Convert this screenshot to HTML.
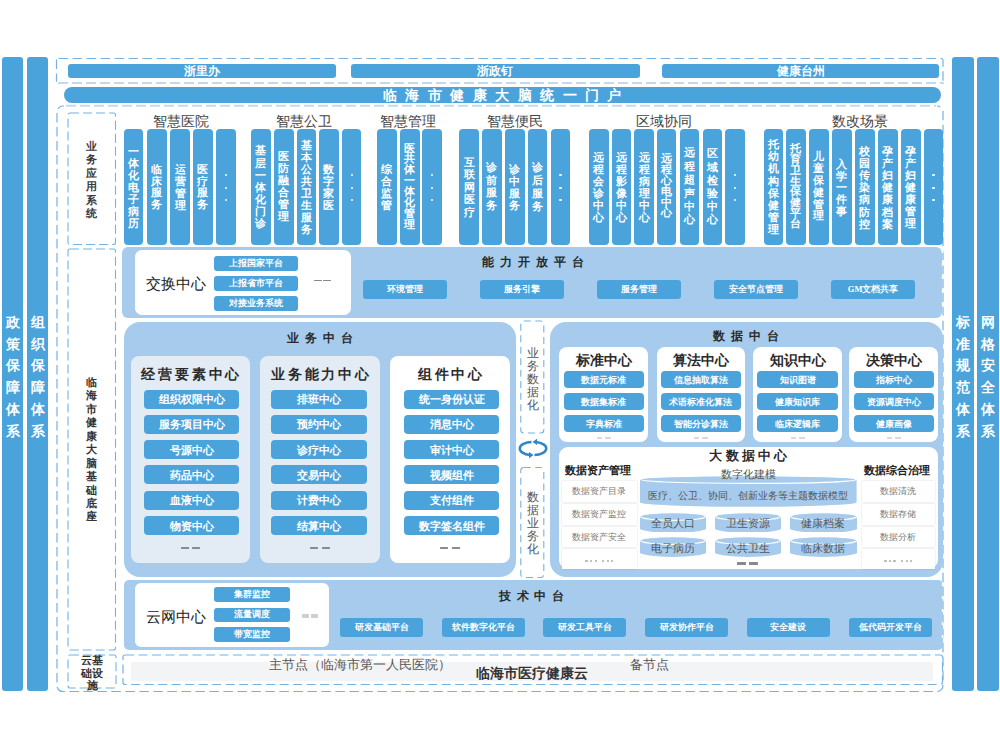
<!DOCTYPE html>
<html><head><meta charset="utf-8"><style>
html,body{margin:0;padding:0;background:#fff;width:1000px;height:750px;overflow:hidden;position:relative;font-family:"Liberation Sans", sans-serif;}
</style></head><body>
<div style="position:absolute;left:1.8px;top:57px;width:21.4px;height:633.8px;background:#4aa3db;border-radius:3px;"></div>
<div style="position:absolute;left:-1.0px;top:311.9px;width:27.0px;text-align:center;font-size:13.5px;color:#fff;font-weight:bold;font-family:'Liberation Sans', sans-serif"><div style="height:21.8px;line-height:21.8px">政</div><div style="height:21.8px;line-height:21.8px">策</div><div style="height:21.8px;line-height:21.8px">保</div><div style="height:21.8px;line-height:21.8px">障</div><div style="height:21.8px;line-height:21.8px">体</div><div style="height:21.8px;line-height:21.8px">系</div></div>
<div style="position:absolute;left:26.9px;top:57px;width:21.4px;height:633.8px;background:#4aa3db;border-radius:3px;"></div>
<div style="position:absolute;left:24.099999999999994px;top:311.9px;width:27.0px;text-align:center;font-size:13.5px;color:#fff;font-weight:bold;font-family:'Liberation Sans', sans-serif"><div style="height:21.8px;line-height:21.8px">组</div><div style="height:21.8px;line-height:21.8px">织</div><div style="height:21.8px;line-height:21.8px">保</div><div style="height:21.8px;line-height:21.8px">障</div><div style="height:21.8px;line-height:21.8px">体</div><div style="height:21.8px;line-height:21.8px">系</div></div>
<div style="position:absolute;left:952.4px;top:57px;width:21.300000000000068px;height:633.8px;background:#4aa3db;border-radius:3px;"></div>
<div style="position:absolute;left:949.55px;top:311.9px;width:27.0px;text-align:center;font-size:13.5px;color:#fff;font-weight:bold;font-family:'Liberation Sans', sans-serif"><div style="height:21.8px;line-height:21.8px">标</div><div style="height:21.8px;line-height:21.8px">准</div><div style="height:21.8px;line-height:21.8px">规</div><div style="height:21.8px;line-height:21.8px">范</div><div style="height:21.8px;line-height:21.8px">体</div><div style="height:21.8px;line-height:21.8px">系</div></div>
<div style="position:absolute;left:976.8px;top:57px;width:21.800000000000068px;height:633.8px;background:#4aa3db;border-radius:3px;"></div>
<div style="position:absolute;left:974.2px;top:311.9px;width:27.0px;text-align:center;font-size:13.5px;color:#fff;font-weight:bold;font-family:'Liberation Sans', sans-serif"><div style="height:21.8px;line-height:21.8px">网</div><div style="height:21.8px;line-height:21.8px">格</div><div style="height:21.8px;line-height:21.8px">安</div><div style="height:21.8px;line-height:21.8px">全</div><div style="height:21.8px;line-height:21.8px">体</div><div style="height:21.8px;line-height:21.8px">系</div></div>
<svg style="position:absolute;left:0;top:0" width="1000" height="750"><rect x="56.5" y="58.5" width="886.5" height="24.5" rx="2" fill="none" stroke="#74b2e4" stroke-width="1.2" stroke-dasharray="9.5 4.5"/></svg>
<svg style="position:absolute;left:0;top:0" width="1000" height="750"><line x1="56" y1="83" x2="944" y2="83" stroke="#fff" stroke-width="2.5"/><line x1="58" y1="83" x2="944" y2="83" stroke="#c3d9ee" stroke-width="2" stroke-dasharray="10 4"/></svg>
<div style="position:absolute;left:67.5px;top:63.5px;width:268.0px;height:14.5px;background:#4aa3db;border-radius:3px;"></div>
<div style="position:absolute;left:-98.5px;top:60.3px;width:600px;height:23.0px;line-height:23.0px;text-align:center;font-size:11.5px;color:#fff;font-weight:bold;letter-spacing:0px;text-indent:0px;font-family:'Liberation Sans', sans-serif;white-space:nowrap;">浙里办</div>
<div style="position:absolute;left:351px;top:63.5px;width:288.79999999999995px;height:14.5px;background:#4aa3db;border-radius:3px;"></div>
<div style="position:absolute;left:195.39999999999998px;top:60.3px;width:600px;height:23.0px;line-height:23.0px;text-align:center;font-size:11.5px;color:#fff;font-weight:bold;letter-spacing:0px;text-indent:0px;font-family:'Liberation Sans', sans-serif;white-space:nowrap;">浙政钉</div>
<div style="position:absolute;left:662.2px;top:63.5px;width:277.19999999999993px;height:14.5px;background:#4aa3db;border-radius:3px;"></div>
<div style="position:absolute;left:500.79999999999995px;top:60.3px;width:600px;height:23.0px;line-height:23.0px;text-align:center;font-size:11.5px;color:#fff;font-weight:bold;letter-spacing:0px;text-indent:0px;font-family:'Liberation Sans', sans-serif;white-space:nowrap;">健康台州</div>
<div style="position:absolute;left:64px;top:86.8px;width:876.5px;height:16.200000000000003px;background:#4aa3db;border-radius:8px;"></div>
<div style="position:absolute;left:202.2px;top:81px;width:600px;height:28px;line-height:28px;text-align:center;font-size:14px;color:#fff;font-weight:bold;letter-spacing:8.45px;text-indent:8.45px;font-family:'Liberation Sans', sans-serif;white-space:nowrap;">临海市健康大脑统一门户</div>
<svg style="position:absolute;left:0;top:0" width="1000" height="750"><rect x="57" y="106" width="886" height="585.5" rx="6" fill="none" stroke="#74b2e4" stroke-width="1.2" stroke-dasharray="9.5 4.5"/></svg>
<svg style="position:absolute;left:0;top:0" width="1000" height="750"><line x1="64" y1="105.8" x2="937" y2="105.8" stroke="#fff" stroke-width="2.5"/><line x1="66" y1="105.8" x2="936" y2="105.8" stroke="#c3d9ee" stroke-width="2" stroke-dasharray="10 4"/></svg>
<svg style="position:absolute;left:0;top:0" width="1000" height="750"><rect x="68" y="113" width="47.5" height="131.5" rx="2" fill="none" stroke="#74b2e4" stroke-width="1.1" stroke-dasharray="9 4"/></svg>
<svg style="position:absolute;left:0;top:0" width="1000" height="750"><rect x="68" y="249" width="47.5" height="401" rx="2" fill="none" stroke="#74b2e4" stroke-width="1.1" stroke-dasharray="9 4"/></svg>
<svg style="position:absolute;left:0;top:0" width="1000" height="750"><rect x="68" y="655" width="48" height="33" rx="2" fill="none" stroke="#74b2e4" stroke-width="1.1" stroke-dasharray="9 4"/></svg>
<div style="position:absolute;left:80.8px;top:139.5px;width:21.0px;text-align:center;font-size:10.5px;color:#3a3a3a;font-weight:bold;font-family:'Liberation Serif', serif"><div style="height:13.5px;line-height:13.5px">业</div><div style="height:13.5px;line-height:13.5px">务</div><div style="height:13.5px;line-height:13.5px">应</div><div style="height:13.5px;line-height:13.5px">用</div><div style="height:13.5px;line-height:13.5px">系</div><div style="height:13.5px;line-height:13.5px">统</div></div>
<div style="position:absolute;left:80.3px;top:376.025px;width:22px;text-align:center;font-size:11px;color:#333;font-weight:bold;font-family:'Liberation Serif', serif"><div style="height:13.45px;line-height:13.45px">临</div><div style="height:13.45px;line-height:13.45px">海</div><div style="height:13.45px;line-height:13.45px">市</div><div style="height:13.45px;line-height:13.45px">健</div><div style="height:13.45px;line-height:13.45px">康</div><div style="height:13.45px;line-height:13.45px">大</div><div style="height:13.45px;line-height:13.45px">脑</div><div style="height:13.45px;line-height:13.45px">基</div><div style="height:13.45px;line-height:13.45px">础</div><div style="height:13.45px;line-height:13.45px">底</div><div style="height:13.45px;line-height:13.45px">座</div></div>
<div style="position:absolute;left:76px;top:654px;width:32px;text-align:center;font-size:11px;line-height:12.6px;color:#333;font-weight:bold;font-family:'Liberation Serif', serif">云基<br>础设<br>施</div>
<div style="position:absolute;left:-119.5px;top:106.6px;width:600px;height:28px;line-height:28px;text-align:center;font-size:14px;color:#444;font-weight:normal;letter-spacing:0px;text-indent:0px;font-family:'Liberation Sans', sans-serif;white-space:nowrap;">智慧医院</div>
<div style="position:absolute;left:123.6px;top:129.3px;width:19.5px;height:115.29999999999998px;background:#4aa3db;border-radius:4px;"></div>
<div style="position:absolute;left:122.35px;top:144.68333333333334px;width:22px;text-align:center;font-size:11px;color:#fff;font-weight:bold;font-family:'Liberation Sans', sans-serif"><div style="height:12.133333333333335px;line-height:12.133333333333335px">一</div><div style="height:12.133333333333335px;line-height:12.133333333333335px">体</div><div style="height:12.133333333333335px;line-height:12.133333333333335px">化</div><div style="height:12.133333333333335px;line-height:12.133333333333335px">电</div><div style="height:12.133333333333335px;line-height:12.133333333333335px">子</div><div style="height:12.133333333333335px;line-height:12.133333333333335px">病</div><div style="height:12.133333333333335px;line-height:12.133333333333335px">历</div></div>
<div style="position:absolute;left:147.1px;top:129.3px;width:19.5px;height:115.29999999999998px;background:#4aa3db;border-radius:4px;"></div>
<div style="position:absolute;left:145.85px;top:163.83333333333334px;width:22px;text-align:center;font-size:11px;color:#fff;font-weight:bold;font-family:'Liberation Sans', sans-serif"><div style="height:11.833333333333334px;line-height:11.833333333333334px">临</div><div style="height:11.833333333333334px;line-height:11.833333333333334px">床</div><div style="height:11.833333333333334px;line-height:11.833333333333334px">服</div><div style="height:11.833333333333334px;line-height:11.833333333333334px">务</div></div>
<div style="position:absolute;left:170.4px;top:129.3px;width:19.5px;height:115.29999999999998px;background:#4aa3db;border-radius:4px;"></div>
<div style="position:absolute;left:169.15px;top:162.89999999999998px;width:22px;text-align:center;font-size:11px;color:#fff;font-weight:bold;font-family:'Liberation Sans', sans-serif"><div style="height:12.100000000000003px;line-height:12.100000000000003px">运</div><div style="height:12.100000000000003px;line-height:12.100000000000003px">营</div><div style="height:12.100000000000003px;line-height:12.100000000000003px">管</div><div style="height:12.100000000000003px;line-height:12.100000000000003px">理</div></div>
<div style="position:absolute;left:193.1px;top:129.3px;width:19.5px;height:115.29999999999998px;background:#4aa3db;border-radius:4px;"></div>
<div style="position:absolute;left:191.85px;top:163.83333333333334px;width:22px;text-align:center;font-size:11px;color:#fff;font-weight:bold;font-family:'Liberation Sans', sans-serif"><div style="height:11.833333333333334px;line-height:11.833333333333334px">医</div><div style="height:11.833333333333334px;line-height:11.833333333333334px">疗</div><div style="height:11.833333333333334px;line-height:11.833333333333334px">服</div><div style="height:11.833333333333334px;line-height:11.833333333333334px">务</div></div>
<div style="position:absolute;left:216.4px;top:129.3px;width:19.5px;height:115.29999999999998px;background:#4aa3db;border-radius:4px;"></div>
<div style="position:absolute;left:225.15px;top:174.2px;width:2.1999999999999886px;height:2.1999999999999886px;background:#fff;border-radius:1px;"></div>
<div style="position:absolute;left:225.15px;top:186.5px;width:2.1999999999999886px;height:2.1999999999999886px;background:#fff;border-radius:1px;"></div>
<div style="position:absolute;left:225.15px;top:198.8px;width:2.1999999999999886px;height:2.1999999999999886px;background:#fff;border-radius:1px;"></div>
<div style="position:absolute;left:4px;top:106.6px;width:600px;height:28px;line-height:28px;text-align:center;font-size:14px;color:#444;font-weight:normal;letter-spacing:0px;text-indent:0px;font-family:'Liberation Sans', sans-serif;white-space:nowrap;">智慧公卫</div>
<div style="position:absolute;left:251.2px;top:129.3px;width:19.5px;height:115.29999999999998px;background:#4aa3db;border-radius:4px;"></div>
<div style="position:absolute;left:249.95px;top:144.4666666666667px;width:22px;text-align:center;font-size:11px;color:#fff;font-weight:bold;font-family:'Liberation Sans', sans-serif"><div style="height:12.166666666666666px;line-height:12.166666666666666px">基</div><div style="height:12.166666666666666px;line-height:12.166666666666666px">层</div><div style="height:12.166666666666666px;line-height:12.166666666666666px">一</div><div style="height:12.166666666666666px;line-height:12.166666666666666px">体</div><div style="height:12.166666666666666px;line-height:12.166666666666666px">化</div><div style="height:12.166666666666666px;line-height:12.166666666666666px">门</div><div style="height:12.166666666666666px;line-height:12.166666666666666px">诊</div></div>
<div style="position:absolute;left:274px;top:129.3px;width:19.5px;height:115.29999999999998px;background:#4aa3db;border-radius:4px;"></div>
<div style="position:absolute;left:272.75px;top:151.28px;width:22px;text-align:center;font-size:11px;color:#fff;font-weight:bold;font-family:'Liberation Sans', sans-serif"><div style="height:11.939999999999998px;line-height:11.939999999999998px">医</div><div style="height:11.939999999999998px;line-height:11.939999999999998px">防</div><div style="height:11.939999999999998px;line-height:11.939999999999998px">融</div><div style="height:11.939999999999998px;line-height:11.939999999999998px">合</div><div style="height:11.939999999999998px;line-height:11.939999999999998px">管</div><div style="height:11.939999999999998px;line-height:11.939999999999998px">理</div></div>
<div style="position:absolute;left:296.7px;top:129.3px;width:19.5px;height:115.29999999999998px;background:#4aa3db;border-radius:4px;"></div>
<div style="position:absolute;left:295.45px;top:138.7px;width:22px;text-align:center;font-size:11px;color:#fff;font-weight:bold;font-family:'Liberation Sans', sans-serif"><div style="height:12.099999999999998px;line-height:12.099999999999998px">基</div><div style="height:12.099999999999998px;line-height:12.099999999999998px">本</div><div style="height:12.099999999999998px;line-height:12.099999999999998px">公</div><div style="height:12.099999999999998px;line-height:12.099999999999998px">共</div><div style="height:12.099999999999998px;line-height:12.099999999999998px">卫</div><div style="height:12.099999999999998px;line-height:12.099999999999998px">生</div><div style="height:12.099999999999998px;line-height:12.099999999999998px">服</div><div style="height:12.099999999999998px;line-height:12.099999999999998px">务</div></div>
<div style="position:absolute;left:319px;top:129.3px;width:19.5px;height:115.29999999999998px;background:#4aa3db;border-radius:4px;"></div>
<div style="position:absolute;left:317.75px;top:162.89999999999998px;width:22px;text-align:center;font-size:11px;color:#fff;font-weight:bold;font-family:'Liberation Sans', sans-serif"><div style="height:12.100000000000003px;line-height:12.100000000000003px">数</div><div style="height:12.100000000000003px;line-height:12.100000000000003px">字</div><div style="height:12.100000000000003px;line-height:12.100000000000003px">家</div><div style="height:12.100000000000003px;line-height:12.100000000000003px">医</div></div>
<div style="position:absolute;left:341.8px;top:129.3px;width:19.5px;height:115.29999999999998px;background:#4aa3db;border-radius:4px;"></div>
<div style="position:absolute;left:350.55px;top:174.2px;width:2.1999999999999886px;height:2.1999999999999886px;background:#fff;border-radius:1px;"></div>
<div style="position:absolute;left:350.55px;top:186.5px;width:2.1999999999999886px;height:2.1999999999999886px;background:#fff;border-radius:1px;"></div>
<div style="position:absolute;left:350.55px;top:198.8px;width:2.1999999999999886px;height:2.1999999999999886px;background:#fff;border-radius:1px;"></div>
<div style="position:absolute;left:107.80000000000001px;top:106.6px;width:600px;height:28px;line-height:28px;text-align:center;font-size:14px;color:#444;font-weight:normal;letter-spacing:0px;text-indent:0px;font-family:'Liberation Sans', sans-serif;white-space:nowrap;">智慧管理</div>
<div style="position:absolute;left:377.2px;top:129.3px;width:19.5px;height:115.29999999999998px;background:#4aa3db;border-radius:4px;"></div>
<div style="position:absolute;left:375.95px;top:162.66666666666666px;width:22px;text-align:center;font-size:11px;color:#fff;font-weight:bold;font-family:'Liberation Sans', sans-serif"><div style="height:12.166666666666666px;line-height:12.166666666666666px">综</div><div style="height:12.166666666666666px;line-height:12.166666666666666px">合</div><div style="height:12.166666666666666px;line-height:12.166666666666666px">监</div><div style="height:12.166666666666666px;line-height:12.166666666666666px">管</div></div>
<div style="position:absolute;left:400px;top:129.3px;width:19.5px;height:115.29999999999998px;background:#4aa3db;border-radius:4px;"></div>
<div style="position:absolute;left:398.75px;top:142.59285714285716px;width:22px;text-align:center;font-size:11px;color:#fff;font-weight:bold;font-family:'Liberation Sans', sans-serif"><div style="height:10.914285714285711px;line-height:10.914285714285711px">医</div><div style="height:10.914285714285711px;line-height:10.914285714285711px">共</div><div style="height:10.914285714285711px;line-height:10.914285714285711px">体</div><div style="height:10.914285714285711px;line-height:10.914285714285711px">一</div><div style="height:10.914285714285711px;line-height:10.914285714285711px">体</div><div style="height:10.914285714285711px;line-height:10.914285714285711px">化</div><div style="height:10.914285714285711px;line-height:10.914285714285711px">管</div><div style="height:10.914285714285711px;line-height:10.914285714285711px">理</div></div>
<div style="position:absolute;left:422.3px;top:129.3px;width:19.5px;height:115.29999999999998px;background:#4aa3db;border-radius:4px;"></div>
<div style="position:absolute;left:431.05px;top:174.2px;width:2.1999999999999886px;height:2.1999999999999886px;background:#fff;border-radius:1px;"></div>
<div style="position:absolute;left:431.05px;top:186.5px;width:2.1999999999999886px;height:2.1999999999999886px;background:#fff;border-radius:1px;"></div>
<div style="position:absolute;left:431.05px;top:198.8px;width:2.1999999999999886px;height:2.1999999999999886px;background:#fff;border-radius:1px;"></div>
<div style="position:absolute;left:214.5px;top:106.6px;width:600px;height:28px;line-height:28px;text-align:center;font-size:14px;color:#444;font-weight:normal;letter-spacing:0px;text-indent:0px;font-family:'Liberation Sans', sans-serif;white-space:nowrap;">智慧便民</div>
<div style="position:absolute;left:459.4px;top:129.3px;width:19.5px;height:115.29999999999998px;background:#4aa3db;border-radius:4px;"></div>
<div style="position:absolute;left:458.15px;top:156.0375px;width:22px;text-align:center;font-size:11px;color:#fff;font-weight:bold;font-family:'Liberation Sans', sans-serif"><div style="height:12.424999999999997px;line-height:12.424999999999997px">互</div><div style="height:12.424999999999997px;line-height:12.424999999999997px">联</div><div style="height:12.424999999999997px;line-height:12.424999999999997px">网</div><div style="height:12.424999999999997px;line-height:12.424999999999997px">医</div><div style="height:12.424999999999997px;line-height:12.424999999999997px">疗</div></div>
<div style="position:absolute;left:482px;top:129.3px;width:19.5px;height:115.29999999999998px;background:#4aa3db;border-radius:4px;"></div>
<div style="position:absolute;left:480.75px;top:160.91666666666666px;width:22px;text-align:center;font-size:11px;color:#fff;font-weight:bold;font-family:'Liberation Sans', sans-serif"><div style="height:12.666666666666666px;line-height:12.666666666666666px">诊</div><div style="height:12.666666666666666px;line-height:12.666666666666666px">前</div><div style="height:12.666666666666666px;line-height:12.666666666666666px">服</div><div style="height:12.666666666666666px;line-height:12.666666666666666px">务</div></div>
<div style="position:absolute;left:505px;top:129.3px;width:19.5px;height:115.29999999999998px;background:#4aa3db;border-radius:4px;"></div>
<div style="position:absolute;left:503.75px;top:162.89999999999998px;width:22px;text-align:center;font-size:11px;color:#fff;font-weight:bold;font-family:'Liberation Sans', sans-serif"><div style="height:12.100000000000003px;line-height:12.100000000000003px">诊</div><div style="height:12.100000000000003px;line-height:12.100000000000003px">中</div><div style="height:12.100000000000003px;line-height:12.100000000000003px">服</div><div style="height:12.100000000000003px;line-height:12.100000000000003px">务</div></div>
<div style="position:absolute;left:527.5px;top:129.3px;width:19.5px;height:115.29999999999998px;background:#4aa3db;border-radius:4px;"></div>
<div style="position:absolute;left:526.25px;top:160.63333333333333px;width:22px;text-align:center;font-size:11px;color:#fff;font-weight:bold;font-family:'Liberation Sans', sans-serif"><div style="height:13.233333333333329px;line-height:13.233333333333329px">诊</div><div style="height:13.233333333333329px;line-height:13.233333333333329px">后</div><div style="height:13.233333333333329px;line-height:13.233333333333329px">服</div><div style="height:13.233333333333329px;line-height:13.233333333333329px">务</div></div>
<div style="position:absolute;left:550.6px;top:129.3px;width:19.5px;height:115.29999999999998px;background:#4aa3db;border-radius:4px;"></div>
<div style="position:absolute;left:559.35px;top:174.2px;width:2.2000000000000455px;height:2.1999999999999886px;background:#fff;border-radius:1px;"></div>
<div style="position:absolute;left:559.35px;top:186.5px;width:2.2000000000000455px;height:2.1999999999999886px;background:#fff;border-radius:1px;"></div>
<div style="position:absolute;left:559.35px;top:198.8px;width:2.2000000000000455px;height:2.1999999999999886px;background:#fff;border-radius:1px;"></div>
<div style="position:absolute;left:364px;top:106.6px;width:600px;height:28px;line-height:28px;text-align:center;font-size:14px;color:#444;font-weight:normal;letter-spacing:0px;text-indent:0px;font-family:'Liberation Sans', sans-serif;white-space:nowrap;">区域协同</div>
<div style="position:absolute;left:589.2px;top:129.3px;width:19.5px;height:115.29999999999998px;background:#4aa3db;border-radius:4px;"></div>
<div style="position:absolute;left:587.95px;top:150.7px;width:22px;text-align:center;font-size:11px;color:#fff;font-weight:bold;font-family:'Liberation Sans', sans-serif"><div style="height:12.1px;line-height:12.1px">远</div><div style="height:12.1px;line-height:12.1px">程</div><div style="height:12.1px;line-height:12.1px">会</div><div style="height:12.1px;line-height:12.1px">诊</div><div style="height:12.1px;line-height:12.1px">中</div><div style="height:12.1px;line-height:12.1px">心</div></div>
<div style="position:absolute;left:611.5px;top:129.3px;width:19.5px;height:115.29999999999998px;background:#4aa3db;border-radius:4px;"></div>
<div style="position:absolute;left:610.25px;top:150.7px;width:22px;text-align:center;font-size:11px;color:#fff;font-weight:bold;font-family:'Liberation Sans', sans-serif"><div style="height:12.1px;line-height:12.1px">远</div><div style="height:12.1px;line-height:12.1px">程</div><div style="height:12.1px;line-height:12.1px">影</div><div style="height:12.1px;line-height:12.1px">像</div><div style="height:12.1px;line-height:12.1px">中</div><div style="height:12.1px;line-height:12.1px">心</div></div>
<div style="position:absolute;left:634.3px;top:129.3px;width:19.5px;height:115.29999999999998px;background:#4aa3db;border-radius:4px;"></div>
<div style="position:absolute;left:633.05px;top:150.7px;width:22px;text-align:center;font-size:11px;color:#fff;font-weight:bold;font-family:'Liberation Sans', sans-serif"><div style="height:12.1px;line-height:12.1px">远</div><div style="height:12.1px;line-height:12.1px">程</div><div style="height:12.1px;line-height:12.1px">病</div><div style="height:12.1px;line-height:12.1px">理</div><div style="height:12.1px;line-height:12.1px">中</div><div style="height:12.1px;line-height:12.1px">心</div></div>
<div style="position:absolute;left:656.8px;top:129.3px;width:19.5px;height:115.29999999999998px;background:#4aa3db;border-radius:4px;"></div>
<div style="position:absolute;left:655.55px;top:153.12px;width:22px;text-align:center;font-size:11px;color:#fff;font-weight:bold;font-family:'Liberation Sans', sans-serif"><div style="height:10.859999999999996px;line-height:10.859999999999996px">远</div><div style="height:10.859999999999996px;line-height:10.859999999999996px">程</div><div style="height:10.859999999999996px;line-height:10.859999999999996px">心</div><div style="height:10.859999999999996px;line-height:10.859999999999996px">电</div><div style="height:10.859999999999996px;line-height:10.859999999999996px">中</div><div style="height:10.859999999999996px;line-height:10.859999999999996px">心</div></div>
<div style="position:absolute;left:679.8px;top:129.3px;width:19.5px;height:115.29999999999998px;background:#4aa3db;border-radius:4px;"></div>
<div style="position:absolute;left:678.55px;top:146.46000000000004px;width:22px;text-align:center;font-size:11px;color:#fff;font-weight:bold;font-family:'Liberation Sans', sans-serif"><div style="height:13.38px;line-height:13.38px">远</div><div style="height:13.38px;line-height:13.38px">程</div><div style="height:13.38px;line-height:13.38px">超</div><div style="height:13.38px;line-height:13.38px">声</div><div style="height:13.38px;line-height:13.38px">中</div><div style="height:13.38px;line-height:13.38px">心</div></div>
<div style="position:absolute;left:702.6px;top:129.3px;width:19.5px;height:115.29999999999998px;background:#4aa3db;border-radius:4px;"></div>
<div style="position:absolute;left:701.35px;top:147.45000000000002px;width:22px;text-align:center;font-size:11px;color:#fff;font-weight:bold;font-family:'Liberation Sans', sans-serif"><div style="height:13.2px;line-height:13.2px">区</div><div style="height:13.2px;line-height:13.2px">域</div><div style="height:13.2px;line-height:13.2px">检</div><div style="height:13.2px;line-height:13.2px">验</div><div style="height:13.2px;line-height:13.2px">中</div><div style="height:13.2px;line-height:13.2px">心</div></div>
<div style="position:absolute;left:725.4px;top:129.3px;width:19.5px;height:115.29999999999998px;background:#4aa3db;border-radius:4px;"></div>
<div style="position:absolute;left:734.15px;top:174.2px;width:2.2000000000000455px;height:2.1999999999999886px;background:#fff;border-radius:1px;"></div>
<div style="position:absolute;left:734.15px;top:186.5px;width:2.2000000000000455px;height:2.1999999999999886px;background:#fff;border-radius:1px;"></div>
<div style="position:absolute;left:734.15px;top:198.8px;width:2.2000000000000455px;height:2.1999999999999886px;background:#fff;border-radius:1px;"></div>
<div style="position:absolute;left:559.5px;top:106.6px;width:600px;height:28px;line-height:28px;text-align:center;font-size:14px;color:#444;font-weight:normal;letter-spacing:0px;text-indent:0px;font-family:'Liberation Sans', sans-serif;white-space:nowrap;">数改场景</div>
<div style="position:absolute;left:763.6px;top:129.3px;width:19.5px;height:115.29999999999998px;background:#4aa3db;border-radius:4px;"></div>
<div style="position:absolute;left:762.35px;top:137.94285714285715px;width:22px;text-align:center;font-size:11px;color:#fff;font-weight:bold;font-family:'Liberation Sans', sans-serif"><div style="height:12.214285714285714px;line-height:12.214285714285714px">托</div><div style="height:12.214285714285714px;line-height:12.214285714285714px">幼</div><div style="height:12.214285714285714px;line-height:12.214285714285714px">机</div><div style="height:12.214285714285714px;line-height:12.214285714285714px">构</div><div style="height:12.214285714285714px;line-height:12.214285714285714px">保</div><div style="height:12.214285714285714px;line-height:12.214285714285714px">健</div><div style="height:12.214285714285714px;line-height:12.214285714285714px">管</div><div style="height:12.214285714285714px;line-height:12.214285714285714px">理</div></div>
<div style="position:absolute;left:786px;top:129.3px;width:19.5px;height:115.29999999999998px;background:#4aa3db;border-radius:4px;"></div>
<div style="position:absolute;left:784.75px;top:143.3857142857143px;width:22px;text-align:center;font-size:11px;color:#fff;font-weight:bold;font-family:'Liberation Sans', sans-serif"><div style="height:10.728571428571428px;line-height:10.728571428571428px">托</div><div style="height:10.728571428571428px;line-height:10.728571428571428px">育</div><div style="height:10.728571428571428px;line-height:10.728571428571428px">卫</div><div style="height:10.728571428571428px;line-height:10.728571428571428px">生</div><div style="height:10.728571428571428px;line-height:10.728571428571428px">保</div><div style="height:10.728571428571428px;line-height:10.728571428571428px">健</div><div style="height:10.728571428571428px;line-height:10.728571428571428px">平</div><div style="height:10.728571428571428px;line-height:10.728571428571428px">台</div></div>
<div style="position:absolute;left:809px;top:129.3px;width:19.5px;height:115.29999999999998px;background:#4aa3db;border-radius:4px;"></div>
<div style="position:absolute;left:807.75px;top:151.46px;width:22px;text-align:center;font-size:11px;color:#fff;font-weight:bold;font-family:'Liberation Sans', sans-serif"><div style="height:11.780000000000001px;line-height:11.780000000000001px">儿</div><div style="height:11.780000000000001px;line-height:11.780000000000001px">童</div><div style="height:11.780000000000001px;line-height:11.780000000000001px">保</div><div style="height:11.780000000000001px;line-height:11.780000000000001px">健</div><div style="height:11.780000000000001px;line-height:11.780000000000001px">管</div><div style="height:11.780000000000001px;line-height:11.780000000000001px">理</div></div>
<div style="position:absolute;left:832px;top:129.3px;width:19.5px;height:115.29999999999998px;background:#4aa3db;border-radius:4px;"></div>
<div style="position:absolute;left:830.75px;top:159.125px;width:22px;text-align:center;font-size:11px;color:#fff;font-weight:bold;font-family:'Liberation Sans', sans-serif"><div style="height:11.650000000000006px;line-height:11.650000000000006px">入</div><div style="height:11.650000000000006px;line-height:11.650000000000006px">学</div><div style="height:11.650000000000006px;line-height:11.650000000000006px">一</div><div style="height:11.650000000000006px;line-height:11.650000000000006px">件</div><div style="height:11.650000000000006px;line-height:11.650000000000006px">事</div></div>
<div style="position:absolute;left:855px;top:129.3px;width:19.5px;height:115.29999999999998px;background:#4aa3db;border-radius:4px;"></div>
<div style="position:absolute;left:853.75px;top:144.65833333333336px;width:22px;text-align:center;font-size:11px;color:#fff;font-weight:bold;font-family:'Liberation Sans', sans-serif"><div style="height:12.183333333333332px;line-height:12.183333333333332px">校</div><div style="height:12.183333333333332px;line-height:12.183333333333332px">园</div><div style="height:12.183333333333332px;line-height:12.183333333333332px">传</div><div style="height:12.183333333333332px;line-height:12.183333333333332px">染</div><div style="height:12.183333333333332px;line-height:12.183333333333332px">病</div><div style="height:12.183333333333332px;line-height:12.183333333333332px">防</div><div style="height:12.183333333333332px;line-height:12.183333333333332px">控</div></div>
<div style="position:absolute;left:878px;top:129.3px;width:19.5px;height:115.29999999999998px;background:#4aa3db;border-radius:4px;"></div>
<div style="position:absolute;left:876.75px;top:144.65833333333336px;width:22px;text-align:center;font-size:11px;color:#fff;font-weight:bold;font-family:'Liberation Sans', sans-serif"><div style="height:12.183333333333332px;line-height:12.183333333333332px">孕</div><div style="height:12.183333333333332px;line-height:12.183333333333332px">产</div><div style="height:12.183333333333332px;line-height:12.183333333333332px">妇</div><div style="height:12.183333333333332px;line-height:12.183333333333332px">健</div><div style="height:12.183333333333332px;line-height:12.183333333333332px">康</div><div style="height:12.183333333333332px;line-height:12.183333333333332px">档</div><div style="height:12.183333333333332px;line-height:12.183333333333332px">案</div></div>
<div style="position:absolute;left:901px;top:129.3px;width:19.5px;height:115.29999999999998px;background:#4aa3db;border-radius:4px;"></div>
<div style="position:absolute;left:899.75px;top:144.73333333333335px;width:22px;text-align:center;font-size:11px;color:#fff;font-weight:bold;font-family:'Liberation Sans', sans-serif"><div style="height:12.033333333333331px;line-height:12.033333333333331px">孕</div><div style="height:12.033333333333331px;line-height:12.033333333333331px">产</div><div style="height:12.033333333333331px;line-height:12.033333333333331px">妇</div><div style="height:12.033333333333331px;line-height:12.033333333333331px">健</div><div style="height:12.033333333333331px;line-height:12.033333333333331px">康</div><div style="height:12.033333333333331px;line-height:12.033333333333331px">管</div><div style="height:12.033333333333331px;line-height:12.033333333333331px">理</div></div>
<div style="position:absolute;left:923.6px;top:129.3px;width:19.5px;height:115.29999999999998px;background:#4aa3db;border-radius:4px;"></div>
<div style="position:absolute;left:932.35px;top:174.2px;width:2.2000000000000455px;height:2.1999999999999886px;background:#fff;border-radius:1px;"></div>
<div style="position:absolute;left:932.35px;top:186.5px;width:2.2000000000000455px;height:2.1999999999999886px;background:#fff;border-radius:1px;"></div>
<div style="position:absolute;left:932.35px;top:198.8px;width:2.2000000000000455px;height:2.1999999999999886px;background:#fff;border-radius:1px;"></div>
<div style="position:absolute;left:122.2px;top:247.4px;width:820.3px;height:70.6px;background:#a6cbec;border-radius:6px;"></div>
<div style="position:absolute;left:135.4px;top:250.4px;width:215.29999999999998px;height:64.79999999999998px;background:#fff;border-radius:7px;"></div>
<div style="position:absolute;left:-124px;top:270.1px;width:600px;height:29.0px;line-height:29.0px;text-align:center;font-size:14.5px;color:#222;font-weight:normal;letter-spacing:0px;text-indent:0px;font-family:'Liberation Serif', serif;white-space:nowrap;">交换中心</div>
<div style="position:absolute;left:213.5px;top:256.4px;width:84.5px;height:14.300000000000011px;background:#4aa3db;border-radius:3px;"></div>
<div style="position:absolute;left:-44.30000000000001px;top:255.09999999999997px;width:600px;height:17.0px;line-height:17.0px;text-align:center;font-size:8.5px;color:#fff;font-weight:bold;letter-spacing:0px;text-indent:0px;font-family:'Liberation Serif', serif;white-space:nowrap;">上报国家平台</div>
<div style="position:absolute;left:213.5px;top:276.4px;width:84.5px;height:14.300000000000011px;background:#4aa3db;border-radius:3px;"></div>
<div style="position:absolute;left:-44.30000000000001px;top:275.09999999999997px;width:600px;height:17.0px;line-height:17.0px;text-align:center;font-size:8.5px;color:#fff;font-weight:bold;letter-spacing:0px;text-indent:0px;font-family:'Liberation Serif', serif;white-space:nowrap;">上报省市平台</div>
<div style="position:absolute;left:213.5px;top:296.4px;width:84.5px;height:14.300000000000011px;background:#4aa3db;border-radius:3px;"></div>
<div style="position:absolute;left:-44.30000000000001px;top:295.09999999999997px;width:600px;height:17.0px;line-height:17.0px;text-align:center;font-size:8.5px;color:#fff;font-weight:bold;letter-spacing:0px;text-indent:0px;font-family:'Liberation Serif', serif;white-space:nowrap;">对接业务系统</div>
<div style="position:absolute;left:314.1px;top:279.70000000000005px;width:7.5px;height:1.7999999999999545px;background:#888;border-radius:0.5px;"></div>
<div style="position:absolute;left:323.4px;top:279.70000000000005px;width:7.5px;height:1.7999999999999545px;background:#888;border-radius:0.5px;"></div>
<div style="position:absolute;left:232.89999999999998px;top:250.7px;width:600px;height:23.6px;line-height:23.6px;text-align:center;font-size:11.8px;color:#2a2a2a;font-weight:bold;letter-spacing:6px;text-indent:6px;font-family:'Liberation Sans', sans-serif;white-space:nowrap;">能力开放平台</div>
<div style="position:absolute;left:363.4px;top:280px;width:83.5px;height:19px;background:#4aa3db;border-radius:3px;"></div>
<div style="position:absolute;left:105.14999999999998px;top:281.0px;width:600px;height:17.0px;line-height:17.0px;text-align:center;font-size:8.5px;color:#fff;font-weight:bold;letter-spacing:0px;text-indent:0px;font-family:'Liberation Serif', serif;white-space:nowrap;">环境管理</div>
<div style="position:absolute;left:480.4px;top:280px;width:83.5px;height:19px;background:#4aa3db;border-radius:3px;"></div>
<div style="position:absolute;left:222.14999999999998px;top:281.0px;width:600px;height:17.0px;line-height:17.0px;text-align:center;font-size:8.5px;color:#fff;font-weight:bold;letter-spacing:0px;text-indent:0px;font-family:'Liberation Serif', serif;white-space:nowrap;">服务引擎</div>
<div style="position:absolute;left:597.4px;top:280px;width:83.5px;height:19px;background:#4aa3db;border-radius:3px;"></div>
<div style="position:absolute;left:339.15px;top:281.0px;width:600px;height:17.0px;line-height:17.0px;text-align:center;font-size:8.5px;color:#fff;font-weight:bold;letter-spacing:0px;text-indent:0px;font-family:'Liberation Serif', serif;white-space:nowrap;">服务管理</div>
<div style="position:absolute;left:714.4px;top:280px;width:83.5px;height:19px;background:#4aa3db;border-radius:3px;"></div>
<div style="position:absolute;left:456.15px;top:281.0px;width:600px;height:17.0px;line-height:17.0px;text-align:center;font-size:8.5px;color:#fff;font-weight:bold;letter-spacing:0px;text-indent:0px;font-family:'Liberation Serif', serif;white-space:nowrap;">安全节点管理</div>
<div style="position:absolute;left:831.4px;top:280px;width:83.5px;height:19px;background:#4aa3db;border-radius:3px;"></div>
<div style="position:absolute;left:573.15px;top:281.0px;width:600px;height:17.0px;line-height:17.0px;text-align:center;font-size:8.5px;color:#fff;font-weight:bold;letter-spacing:0px;text-indent:0px;font-family:'Liberation Serif', serif;white-space:nowrap;">GM文档共享</div>
<div style="position:absolute;left:124px;top:322px;width:392px;height:254.5px;background:#a6cbec;border-radius:16px;"></div>
<div style="position:absolute;left:20.100000000000023px;top:326.5px;width:600px;height:23.6px;line-height:23.6px;text-align:center;font-size:11.8px;color:#2a2a2a;font-weight:bold;letter-spacing:5.9px;text-indent:5.9px;font-family:'Liberation Sans', sans-serif;white-space:nowrap;">业务中台</div>
<div style="position:absolute;left:131px;top:356px;width:119px;height:206.5px;background:#e3ebf4;border-radius:8px;"></div>
<div style="position:absolute;left:-109.5px;top:360.5px;width:600px;height:27.0px;line-height:27.0px;text-align:center;font-size:13.5px;color:#2a2a2a;font-weight:bold;letter-spacing:2.8px;text-indent:2.8px;font-family:'Liberation Sans', sans-serif;white-space:nowrap;">经营要素中心</div>
<div style="position:absolute;left:143.8px;top:389.5px;width:95.5px;height:19.0px;background:#4aa3db;border-radius:4px;"></div>
<div style="position:absolute;left:-108.44999999999999px;top:388.0px;width:600px;height:22px;line-height:22px;text-align:center;font-size:11px;color:#fff;font-weight:bold;letter-spacing:0px;text-indent:0px;font-family:'Liberation Serif', serif;white-space:nowrap;">组织权限中心</div>
<div style="position:absolute;left:143.8px;top:414.8px;width:95.5px;height:19.0px;background:#4aa3db;border-radius:4px;"></div>
<div style="position:absolute;left:-108.44999999999999px;top:413.3px;width:600px;height:22px;line-height:22px;text-align:center;font-size:11px;color:#fff;font-weight:bold;letter-spacing:0px;text-indent:0px;font-family:'Liberation Serif', serif;white-space:nowrap;">服务项目中心</div>
<div style="position:absolute;left:143.8px;top:440.1px;width:95.5px;height:19.0px;background:#4aa3db;border-radius:4px;"></div>
<div style="position:absolute;left:-108.44999999999999px;top:438.6px;width:600px;height:22px;line-height:22px;text-align:center;font-size:11px;color:#fff;font-weight:bold;letter-spacing:0px;text-indent:0px;font-family:'Liberation Serif', serif;white-space:nowrap;">号源中心</div>
<div style="position:absolute;left:143.8px;top:465.4px;width:95.5px;height:19.0px;background:#4aa3db;border-radius:4px;"></div>
<div style="position:absolute;left:-108.44999999999999px;top:463.9px;width:600px;height:22px;line-height:22px;text-align:center;font-size:11px;color:#fff;font-weight:bold;letter-spacing:0px;text-indent:0px;font-family:'Liberation Serif', serif;white-space:nowrap;">药品中心</div>
<div style="position:absolute;left:143.8px;top:490.7px;width:95.5px;height:19.0px;background:#4aa3db;border-radius:4px;"></div>
<div style="position:absolute;left:-108.44999999999999px;top:489.2px;width:600px;height:22px;line-height:22px;text-align:center;font-size:11px;color:#fff;font-weight:bold;letter-spacing:0px;text-indent:0px;font-family:'Liberation Serif', serif;white-space:nowrap;">血液中心</div>
<div style="position:absolute;left:143.8px;top:516.0px;width:95.5px;height:19.0px;background:#4aa3db;border-radius:4px;"></div>
<div style="position:absolute;left:-108.44999999999999px;top:514.5px;width:600px;height:22px;line-height:22px;text-align:center;font-size:11px;color:#fff;font-weight:bold;letter-spacing:0px;text-indent:0px;font-family:'Liberation Serif', serif;white-space:nowrap;">物资中心</div>
<div style="position:absolute;left:180.75px;top:547.0px;width:8.0px;height:2.400000000000091px;background:#8a8a8a;border-radius:0.5px;"></div>
<div style="position:absolute;left:192.25px;top:547.0px;width:8.0px;height:2.400000000000091px;background:#8a8a8a;border-radius:0.5px;"></div>
<div style="position:absolute;left:260px;top:356px;width:120px;height:206.5px;background:#e3ebf4;border-radius:8px;"></div>
<div style="position:absolute;left:20.0px;top:360.5px;width:600px;height:27.0px;line-height:27.0px;text-align:center;font-size:13.5px;color:#2a2a2a;font-weight:bold;letter-spacing:2.8px;text-indent:2.8px;font-family:'Liberation Sans', sans-serif;white-space:nowrap;">业务能力中心</div>
<div style="position:absolute;left:271.2px;top:389.5px;width:95.5px;height:19.0px;background:#4aa3db;border-radius:4px;"></div>
<div style="position:absolute;left:18.94999999999999px;top:388.0px;width:600px;height:22px;line-height:22px;text-align:center;font-size:11px;color:#fff;font-weight:bold;letter-spacing:0px;text-indent:0px;font-family:'Liberation Serif', serif;white-space:nowrap;">排班中心</div>
<div style="position:absolute;left:271.2px;top:414.8px;width:95.5px;height:19.0px;background:#4aa3db;border-radius:4px;"></div>
<div style="position:absolute;left:18.94999999999999px;top:413.3px;width:600px;height:22px;line-height:22px;text-align:center;font-size:11px;color:#fff;font-weight:bold;letter-spacing:0px;text-indent:0px;font-family:'Liberation Serif', serif;white-space:nowrap;">预约中心</div>
<div style="position:absolute;left:271.2px;top:440.1px;width:95.5px;height:19.0px;background:#4aa3db;border-radius:4px;"></div>
<div style="position:absolute;left:18.94999999999999px;top:438.6px;width:600px;height:22px;line-height:22px;text-align:center;font-size:11px;color:#fff;font-weight:bold;letter-spacing:0px;text-indent:0px;font-family:'Liberation Serif', serif;white-space:nowrap;">诊疗中心</div>
<div style="position:absolute;left:271.2px;top:465.4px;width:95.5px;height:19.0px;background:#4aa3db;border-radius:4px;"></div>
<div style="position:absolute;left:18.94999999999999px;top:463.9px;width:600px;height:22px;line-height:22px;text-align:center;font-size:11px;color:#fff;font-weight:bold;letter-spacing:0px;text-indent:0px;font-family:'Liberation Serif', serif;white-space:nowrap;">交易中心</div>
<div style="position:absolute;left:271.2px;top:490.7px;width:95.5px;height:19.0px;background:#4aa3db;border-radius:4px;"></div>
<div style="position:absolute;left:18.94999999999999px;top:489.2px;width:600px;height:22px;line-height:22px;text-align:center;font-size:11px;color:#fff;font-weight:bold;letter-spacing:0px;text-indent:0px;font-family:'Liberation Serif', serif;white-space:nowrap;">计费中心</div>
<div style="position:absolute;left:271.2px;top:516.0px;width:95.5px;height:19.0px;background:#4aa3db;border-radius:4px;"></div>
<div style="position:absolute;left:18.94999999999999px;top:514.5px;width:600px;height:22px;line-height:22px;text-align:center;font-size:11px;color:#fff;font-weight:bold;letter-spacing:0px;text-indent:0px;font-family:'Liberation Serif', serif;white-space:nowrap;">结算中心</div>
<div style="position:absolute;left:310.25px;top:547.0px;width:8.0px;height:2.400000000000091px;background:#8a8a8a;border-radius:0.5px;"></div>
<div style="position:absolute;left:321.75px;top:547.0px;width:8.0px;height:2.400000000000091px;background:#8a8a8a;border-radius:0.5px;"></div>
<div style="position:absolute;left:390px;top:356px;width:120px;height:206.5px;background:#fff;border-radius:8px;"></div>
<div style="position:absolute;left:150.0px;top:360.5px;width:600px;height:27.0px;line-height:27.0px;text-align:center;font-size:13.5px;color:#2a2a2a;font-weight:bold;letter-spacing:2.8px;text-indent:2.8px;font-family:'Liberation Sans', sans-serif;white-space:nowrap;">组件中心</div>
<div style="position:absolute;left:403.8px;top:389.5px;width:95.5px;height:19.0px;background:#4aa3db;border-radius:4px;"></div>
<div style="position:absolute;left:151.55px;top:388.0px;width:600px;height:22px;line-height:22px;text-align:center;font-size:11px;color:#fff;font-weight:bold;letter-spacing:0px;text-indent:0px;font-family:'Liberation Serif', serif;white-space:nowrap;">统一身份认证</div>
<div style="position:absolute;left:403.8px;top:414.8px;width:95.5px;height:19.0px;background:#4aa3db;border-radius:4px;"></div>
<div style="position:absolute;left:151.55px;top:413.3px;width:600px;height:22px;line-height:22px;text-align:center;font-size:11px;color:#fff;font-weight:bold;letter-spacing:0px;text-indent:0px;font-family:'Liberation Serif', serif;white-space:nowrap;">消息中心</div>
<div style="position:absolute;left:403.8px;top:440.1px;width:95.5px;height:19.0px;background:#4aa3db;border-radius:4px;"></div>
<div style="position:absolute;left:151.55px;top:438.6px;width:600px;height:22px;line-height:22px;text-align:center;font-size:11px;color:#fff;font-weight:bold;letter-spacing:0px;text-indent:0px;font-family:'Liberation Serif', serif;white-space:nowrap;">审计中心</div>
<div style="position:absolute;left:403.8px;top:465.4px;width:95.5px;height:19.0px;background:#4aa3db;border-radius:4px;"></div>
<div style="position:absolute;left:151.55px;top:463.9px;width:600px;height:22px;line-height:22px;text-align:center;font-size:11px;color:#fff;font-weight:bold;letter-spacing:0px;text-indent:0px;font-family:'Liberation Serif', serif;white-space:nowrap;">视频组件</div>
<div style="position:absolute;left:403.8px;top:490.7px;width:95.5px;height:19.0px;background:#4aa3db;border-radius:4px;"></div>
<div style="position:absolute;left:151.55px;top:489.2px;width:600px;height:22px;line-height:22px;text-align:center;font-size:11px;color:#fff;font-weight:bold;letter-spacing:0px;text-indent:0px;font-family:'Liberation Serif', serif;white-space:nowrap;">支付组件</div>
<div style="position:absolute;left:403.8px;top:516.0px;width:95.5px;height:19.0px;background:#4aa3db;border-radius:4px;"></div>
<div style="position:absolute;left:151.55px;top:514.5px;width:600px;height:22px;line-height:22px;text-align:center;font-size:11px;color:#fff;font-weight:bold;letter-spacing:0px;text-indent:0px;font-family:'Liberation Serif', serif;white-space:nowrap;">数字签名组件</div>
<div style="position:absolute;left:440.25px;top:547.0px;width:8.0px;height:2.400000000000091px;background:#8a8a8a;border-radius:0.5px;"></div>
<div style="position:absolute;left:451.75px;top:547.0px;width:8.0px;height:2.400000000000091px;background:#8a8a8a;border-radius:0.5px;"></div>
<svg style="position:absolute;left:0;top:0" width="1000" height="750"><rect x="520.8" y="321" width="23.0" height="112" rx="3" fill="none" stroke="#74b2e4" stroke-width="1.1" stroke-dasharray="7 4.5"/></svg>
<div style="position:absolute;left:520.5px;top:347.05px;width:24px;text-align:center;font-size:12px;color:#555;font-weight:normal;font-family:'Liberation Sans', sans-serif"><div style="height:12.9px;line-height:12.9px">业</div><div style="height:12.9px;line-height:12.9px">务</div><div style="height:12.9px;line-height:12.9px">数</div><div style="height:12.9px;line-height:12.9px">据</div><div style="height:12.9px;line-height:12.9px">化</div></div>
<svg style="position:absolute;left:0;top:0" width="1000" height="750"><rect x="520.8" y="467.5" width="23.0" height="110.0" rx="3" fill="none" stroke="#74b2e4" stroke-width="1.1" stroke-dasharray="7 4.5"/></svg>
<div style="position:absolute;left:520.5px;top:491.25px;width:24px;text-align:center;font-size:12px;color:#555;font-weight:normal;font-family:'Liberation Sans', sans-serif"><div style="height:12.9px;line-height:12.9px">数</div><div style="height:12.9px;line-height:12.9px">据</div><div style="height:12.9px;line-height:12.9px">业</div><div style="height:12.9px;line-height:12.9px">务</div><div style="height:12.9px;line-height:12.9px">化</div></div>
<svg style="position:absolute;left:0;top:0" width="1000" height="750"><g fill="none" stroke="#2f87c9" stroke-width="2.5"><path d="M531.5 441.9 A12.3 6.6 0 0 0 530 455.0"/><path d="M534.5 455.1 A12.3 6.6 0 0 0 536 442.0"/></g><g fill="#2f87c9"><path d="M533.5 455.1 L529 451.90000000000003 L529 458.3 Z"/><path d="M532.5 441.9 L537 438.7 L537 445.09999999999997 Z"/></g></svg>
<div style="position:absolute;left:550px;top:321.6px;width:392.5px;height:255.89999999999998px;background:#a6cbec;border-radius:16px;"></div>
<div style="position:absolute;left:446.20000000000005px;top:325.2px;width:600px;height:23.6px;line-height:23.6px;text-align:center;font-size:11.8px;color:#2a2a2a;font-weight:bold;letter-spacing:5.9px;text-indent:5.9px;font-family:'Liberation Sans', sans-serif;white-space:nowrap;">数据中台</div>
<div style="position:absolute;left:559.4px;top:346.8px;width:88.60000000000002px;height:95.39999999999998px;background:#fff;border-radius:8px;"></div>
<div style="position:absolute;left:303.69999999999993px;top:346.5px;width:600px;height:28px;line-height:28px;text-align:center;font-size:14px;color:#2a2a2a;font-weight:bold;letter-spacing:0px;text-indent:0px;font-family:'Liberation Serif', serif;white-space:nowrap;">标准中心</div>
<div style="position:absolute;left:563.6px;top:371px;width:80.39999999999998px;height:17.30000000000001px;background:#4aa3db;border-radius:4px;"></div>
<div style="position:absolute;left:303.69999999999993px;top:370.7px;width:600px;height:18px;line-height:18px;text-align:center;font-size:9px;color:#fff;font-weight:bold;letter-spacing:0px;text-indent:0px;font-family:'Liberation Serif', serif;white-space:nowrap;">数据元标准</div>
<div style="position:absolute;left:563.6px;top:393px;width:80.39999999999998px;height:17.30000000000001px;background:#4aa3db;border-radius:4px;"></div>
<div style="position:absolute;left:303.69999999999993px;top:392.7px;width:600px;height:18px;line-height:18px;text-align:center;font-size:9px;color:#fff;font-weight:bold;letter-spacing:0px;text-indent:0px;font-family:'Liberation Serif', serif;white-space:nowrap;">数据集标准</div>
<div style="position:absolute;left:563.6px;top:415px;width:80.39999999999998px;height:17.30000000000001px;background:#4aa3db;border-radius:4px;"></div>
<div style="position:absolute;left:303.69999999999993px;top:414.7px;width:600px;height:18px;line-height:18px;text-align:center;font-size:9px;color:#fff;font-weight:bold;letter-spacing:0px;text-indent:0px;font-family:'Liberation Serif', serif;white-space:nowrap;">字典标准</div>
<div style="position:absolute;left:596.6999999999999px;top:436.6px;width:5.5px;height:2.7999999999999545px;background:#d8d8d8;border-radius:0.5px;"></div>
<div style="position:absolute;left:605.1999999999999px;top:436.6px;width:5.5px;height:2.7999999999999545px;background:#d8d8d8;border-radius:0.5px;"></div>
<div style="position:absolute;left:656.6px;top:346.8px;width:88.60000000000002px;height:95.39999999999998px;background:#fff;border-radius:8px;"></div>
<div style="position:absolute;left:400.9px;top:346.5px;width:600px;height:28px;line-height:28px;text-align:center;font-size:14px;color:#2a2a2a;font-weight:bold;letter-spacing:0px;text-indent:0px;font-family:'Liberation Serif', serif;white-space:nowrap;">算法中心</div>
<div style="position:absolute;left:660.8000000000001px;top:371px;width:80.39999999999998px;height:17.30000000000001px;background:#4aa3db;border-radius:4px;"></div>
<div style="position:absolute;left:400.9px;top:370.7px;width:600px;height:18px;line-height:18px;text-align:center;font-size:9px;color:#fff;font-weight:bold;letter-spacing:0px;text-indent:0px;font-family:'Liberation Serif', serif;white-space:nowrap;">信息抽取算法</div>
<div style="position:absolute;left:660.8000000000001px;top:393px;width:80.39999999999998px;height:17.30000000000001px;background:#4aa3db;border-radius:4px;"></div>
<div style="position:absolute;left:400.9px;top:392.7px;width:600px;height:18px;line-height:18px;text-align:center;font-size:9px;color:#fff;font-weight:bold;letter-spacing:0px;text-indent:0px;font-family:'Liberation Serif', serif;white-space:nowrap;">术语标准化算法</div>
<div style="position:absolute;left:660.8000000000001px;top:415px;width:80.39999999999998px;height:17.30000000000001px;background:#4aa3db;border-radius:4px;"></div>
<div style="position:absolute;left:400.9px;top:414.7px;width:600px;height:18px;line-height:18px;text-align:center;font-size:9px;color:#fff;font-weight:bold;letter-spacing:0px;text-indent:0px;font-family:'Liberation Serif', serif;white-space:nowrap;">智能分诊算法</div>
<div style="position:absolute;left:693.9px;top:436.6px;width:5.5px;height:2.7999999999999545px;background:#d8d8d8;border-radius:0.5px;"></div>
<div style="position:absolute;left:702.4px;top:436.6px;width:5.5px;height:2.7999999999999545px;background:#d8d8d8;border-radius:0.5px;"></div>
<div style="position:absolute;left:753.2px;top:346.8px;width:88.60000000000002px;height:95.39999999999998px;background:#fff;border-radius:8px;"></div>
<div style="position:absolute;left:497.5px;top:346.5px;width:600px;height:28px;line-height:28px;text-align:center;font-size:14px;color:#2a2a2a;font-weight:bold;letter-spacing:0px;text-indent:0px;font-family:'Liberation Serif', serif;white-space:nowrap;">知识中心</div>
<div style="position:absolute;left:757.4000000000001px;top:371px;width:80.39999999999998px;height:17.30000000000001px;background:#4aa3db;border-radius:4px;"></div>
<div style="position:absolute;left:497.5px;top:370.7px;width:600px;height:18px;line-height:18px;text-align:center;font-size:9px;color:#fff;font-weight:bold;letter-spacing:0px;text-indent:0px;font-family:'Liberation Serif', serif;white-space:nowrap;">知识图谱</div>
<div style="position:absolute;left:757.4000000000001px;top:393px;width:80.39999999999998px;height:17.30000000000001px;background:#4aa3db;border-radius:4px;"></div>
<div style="position:absolute;left:497.5px;top:392.7px;width:600px;height:18px;line-height:18px;text-align:center;font-size:9px;color:#fff;font-weight:bold;letter-spacing:0px;text-indent:0px;font-family:'Liberation Serif', serif;white-space:nowrap;">健康知识库</div>
<div style="position:absolute;left:757.4000000000001px;top:415px;width:80.39999999999998px;height:17.30000000000001px;background:#4aa3db;border-radius:4px;"></div>
<div style="position:absolute;left:497.5px;top:414.7px;width:600px;height:18px;line-height:18px;text-align:center;font-size:9px;color:#fff;font-weight:bold;letter-spacing:0px;text-indent:0px;font-family:'Liberation Serif', serif;white-space:nowrap;">临床逻辑库</div>
<div style="position:absolute;left:790.5px;top:436.6px;width:5.5px;height:2.7999999999999545px;background:#d8d8d8;border-radius:0.5px;"></div>
<div style="position:absolute;left:799.0px;top:436.6px;width:5.5px;height:2.7999999999999545px;background:#d8d8d8;border-radius:0.5px;"></div>
<div style="position:absolute;left:849.4px;top:346.8px;width:88.60000000000002px;height:95.39999999999998px;background:#fff;border-radius:8px;"></div>
<div style="position:absolute;left:593.6999999999999px;top:346.5px;width:600px;height:28px;line-height:28px;text-align:center;font-size:14px;color:#2a2a2a;font-weight:bold;letter-spacing:0px;text-indent:0px;font-family:'Liberation Serif', serif;white-space:nowrap;">决策中心</div>
<div style="position:absolute;left:853.6px;top:371px;width:80.39999999999998px;height:17.30000000000001px;background:#4aa3db;border-radius:4px;"></div>
<div style="position:absolute;left:593.6999999999999px;top:370.7px;width:600px;height:18px;line-height:18px;text-align:center;font-size:9px;color:#fff;font-weight:bold;letter-spacing:0px;text-indent:0px;font-family:'Liberation Serif', serif;white-space:nowrap;">指标中心</div>
<div style="position:absolute;left:853.6px;top:393px;width:80.39999999999998px;height:17.30000000000001px;background:#4aa3db;border-radius:4px;"></div>
<div style="position:absolute;left:593.6999999999999px;top:392.7px;width:600px;height:18px;line-height:18px;text-align:center;font-size:9px;color:#fff;font-weight:bold;letter-spacing:0px;text-indent:0px;font-family:'Liberation Serif', serif;white-space:nowrap;">资源调度中心</div>
<div style="position:absolute;left:853.6px;top:415px;width:80.39999999999998px;height:17.30000000000001px;background:#4aa3db;border-radius:4px;"></div>
<div style="position:absolute;left:593.6999999999999px;top:414.7px;width:600px;height:18px;line-height:18px;text-align:center;font-size:9px;color:#fff;font-weight:bold;letter-spacing:0px;text-indent:0px;font-family:'Liberation Serif', serif;white-space:nowrap;">健康画像</div>
<div style="position:absolute;left:886.6999999999999px;top:436.6px;width:5.5px;height:2.7999999999999545px;background:#d8d8d8;border-radius:0.5px;"></div>
<div style="position:absolute;left:895.1999999999999px;top:436.6px;width:5.5px;height:2.7999999999999545px;background:#d8d8d8;border-radius:0.5px;"></div>
<div style="position:absolute;left:558.8px;top:447.3px;width:379.20000000000005px;height:122.19999999999999px;background:#fff;border-radius:9px;"></div>
<div style="position:absolute;left:448.29999999999995px;top:442.5px;width:600px;height:26px;line-height:26px;text-align:center;font-size:13px;color:#2a2a2a;font-weight:bold;letter-spacing:3.2px;text-indent:3.2px;font-family:'Liberation Sans', sans-serif;white-space:nowrap;">大数据中心</div>
<div style="position:absolute;left:298px;top:458.7px;width:600px;height:22px;line-height:22px;text-align:center;font-size:11px;color:#222;font-weight:bold;letter-spacing:0px;text-indent:0px;font-family:'Liberation Sans', sans-serif;white-space:nowrap;">数据资产管理</div>
<div style="position:absolute;left:596.5px;top:458.7px;width:600px;height:22px;line-height:22px;text-align:center;font-size:11px;color:#222;font-weight:bold;letter-spacing:0px;text-indent:0px;font-family:'Liberation Sans', sans-serif;white-space:nowrap;">数据综合治理</div>
<div style="position:absolute;left:562px;top:480.7px;width:74.79999999999995px;height:20.900000000000034px;background:#fff;border-radius:0px;box-shadow:0 0 1.5px rgba(0,0,0,0.18)"></div>
<div style="position:absolute;left:299.4px;top:482.15px;width:600px;height:18px;line-height:18px;text-align:center;font-size:9px;color:#777;font-weight:normal;letter-spacing:0px;text-indent:0px;font-family:'Liberation Sans', sans-serif;white-space:nowrap;">数据资产目录</div>
<div style="position:absolute;left:562px;top:503.8px;width:74.79999999999995px;height:20.900000000000034px;background:#fff;border-radius:0px;box-shadow:0 0 1.5px rgba(0,0,0,0.18)"></div>
<div style="position:absolute;left:299.4px;top:505.25px;width:600px;height:18px;line-height:18px;text-align:center;font-size:9px;color:#777;font-weight:normal;letter-spacing:0px;text-indent:0px;font-family:'Liberation Sans', sans-serif;white-space:nowrap;">数据资产监控</div>
<div style="position:absolute;left:562px;top:527px;width:74.79999999999995px;height:19.700000000000045px;background:#fff;border-radius:0px;box-shadow:0 0 1.5px rgba(0,0,0,0.18)"></div>
<div style="position:absolute;left:299.4px;top:527.85px;width:600px;height:18px;line-height:18px;text-align:center;font-size:9px;color:#777;font-weight:normal;letter-spacing:0px;text-indent:0px;font-family:'Liberation Sans', sans-serif;white-space:nowrap;">数据资产安全</div>
<div style="position:absolute;left:562px;top:549px;width:74.79999999999995px;height:19.700000000000045px;background:#fff;border-radius:0px;box-shadow:0 0 1.5px rgba(0,0,0,0.18)"></div>
<div style="position:absolute;left:585.3px;top:560.0500000000001px;width:2.2999999999999545px;height:2.2999999999999545px;background:#bbb;border-radius:0.5px;"></div>
<div style="position:absolute;left:589.9px;top:560.0500000000001px;width:2.2999999999999545px;height:2.2999999999999545px;background:#bbb;border-radius:0.5px;"></div>
<div style="position:absolute;left:594.5px;top:560.0500000000001px;width:2.2999999999999545px;height:2.2999999999999545px;background:#bbb;border-radius:0.5px;"></div>
<div style="position:absolute;left:602.0px;top:560.0500000000001px;width:2.2999999999999545px;height:2.2999999999999545px;background:#bbb;border-radius:0.5px;"></div>
<div style="position:absolute;left:606.6px;top:560.0500000000001px;width:2.2999999999999545px;height:2.2999999999999545px;background:#bbb;border-radius:0.5px;"></div>
<div style="position:absolute;left:611.2px;top:560.0500000000001px;width:2.2999999999999545px;height:2.2999999999999545px;background:#bbb;border-radius:0.5px;"></div>
<div style="position:absolute;left:862px;top:480.7px;width:72.70000000000005px;height:20.900000000000034px;background:#fff;border-radius:0px;box-shadow:0 0 1.5px rgba(0,0,0,0.18)"></div>
<div style="position:absolute;left:598.35px;top:482.15px;width:600px;height:18px;line-height:18px;text-align:center;font-size:9px;color:#777;font-weight:normal;letter-spacing:0px;text-indent:0px;font-family:'Liberation Sans', sans-serif;white-space:nowrap;">数据清洗</div>
<div style="position:absolute;left:862px;top:503.8px;width:72.70000000000005px;height:20.900000000000034px;background:#fff;border-radius:0px;box-shadow:0 0 1.5px rgba(0,0,0,0.18)"></div>
<div style="position:absolute;left:598.35px;top:505.25px;width:600px;height:18px;line-height:18px;text-align:center;font-size:9px;color:#777;font-weight:normal;letter-spacing:0px;text-indent:0px;font-family:'Liberation Sans', sans-serif;white-space:nowrap;">数据存储</div>
<div style="position:absolute;left:862px;top:527px;width:72.70000000000005px;height:19.700000000000045px;background:#fff;border-radius:0px;box-shadow:0 0 1.5px rgba(0,0,0,0.18)"></div>
<div style="position:absolute;left:598.35px;top:527.85px;width:600px;height:18px;line-height:18px;text-align:center;font-size:9px;color:#777;font-weight:normal;letter-spacing:0px;text-indent:0px;font-family:'Liberation Sans', sans-serif;white-space:nowrap;">数据分析</div>
<div style="position:absolute;left:862px;top:549px;width:72.70000000000005px;height:19.700000000000045px;background:#fff;border-radius:0px;box-shadow:0 0 1.5px rgba(0,0,0,0.18)"></div>
<div style="position:absolute;left:884.25px;top:560.0500000000001px;width:2.2999999999999545px;height:2.2999999999999545px;background:#bbb;border-radius:0.5px;"></div>
<div style="position:absolute;left:888.85px;top:560.0500000000001px;width:2.2999999999999545px;height:2.2999999999999545px;background:#bbb;border-radius:0.5px;"></div>
<div style="position:absolute;left:893.45px;top:560.0500000000001px;width:2.2999999999999545px;height:2.2999999999999545px;background:#bbb;border-radius:0.5px;"></div>
<div style="position:absolute;left:900.95px;top:560.0500000000001px;width:2.2999999999999545px;height:2.2999999999999545px;background:#bbb;border-radius:0.5px;"></div>
<div style="position:absolute;left:905.5500000000001px;top:560.0500000000001px;width:2.2999999999999545px;height:2.2999999999999545px;background:#bbb;border-radius:0.5px;"></div>
<div style="position:absolute;left:910.1500000000001px;top:560.0500000000001px;width:2.2999999999999545px;height:2.2999999999999545px;background:#bbb;border-radius:0.5px;"></div>
<svg style="position:absolute;left:640px;top:475.2px" width="216.60000000000002" height="31.80000000000001" viewBox="0 0 216.60000000000002 31.80000000000001"><path d="M0 4.5 L0 27.30000000000001 A108.30000000000001 4.5 0 0 0 216.60000000000002 27.30000000000001 L216.60000000000002 4.5 Z" fill="#a6cbec"/><ellipse cx="108.30000000000001" cy="4.5" rx="107.70000000000002" ry="3.9" fill="#a6cbec" stroke="#fff" stroke-width="1.2"/></svg>
<div style="position:absolute;left:448.29999999999995px;top:486px;width:600px;height:20px;line-height:20px;text-align:center;font-size:10px;color:#555;font-weight:normal;letter-spacing:0px;text-indent:0px;font-family:'Liberation Sans', sans-serif;white-space:nowrap;">医疗、公卫、协同、创新业务等主题数据模型</div>
<div style="position:absolute;left:448px;top:463px;width:600px;height:22px;line-height:22px;text-align:center;font-size:11px;color:#555;font-weight:normal;letter-spacing:0px;text-indent:0px;font-family:'Liberation Sans', sans-serif;white-space:nowrap;">数字化建模</div>
<svg style="position:absolute;left:640px;top:511.5px" width="66" height="20.899999999999977" viewBox="0 0 66 20.899999999999977"><path d="M0 4.5 L0 16.399999999999977 A33.0 4.5 0 0 0 66 16.399999999999977 L66 4.5 Z" fill="#a6cbec"/><ellipse cx="33.0" cy="4.5" rx="32.4" ry="3.9" fill="#a6cbec" stroke="#fff" stroke-width="1.2"/></svg>
<div style="position:absolute;left:373.0px;top:513.45px;width:600px;height:21.0px;line-height:21.0px;text-align:center;font-size:10.5px;color:#555;font-weight:normal;letter-spacing:0px;text-indent:0px;font-family:'Liberation Sans', sans-serif;white-space:nowrap;">全员人口</div>
<svg style="position:absolute;left:715px;top:511.5px" width="66" height="20.899999999999977" viewBox="0 0 66 20.899999999999977"><path d="M0 4.5 L0 16.399999999999977 A33.0 4.5 0 0 0 66 16.399999999999977 L66 4.5 Z" fill="#a6cbec"/><ellipse cx="33.0" cy="4.5" rx="32.4" ry="3.9" fill="#a6cbec" stroke="#fff" stroke-width="1.2"/></svg>
<div style="position:absolute;left:448.0px;top:513.45px;width:600px;height:21.0px;line-height:21.0px;text-align:center;font-size:10.5px;color:#555;font-weight:normal;letter-spacing:0px;text-indent:0px;font-family:'Liberation Sans', sans-serif;white-space:nowrap;">卫生资源</div>
<svg style="position:absolute;left:789.5px;top:511.5px" width="67.10000000000002" height="20.899999999999977" viewBox="0 0 67.10000000000002 20.899999999999977"><path d="M0 4.5 L0 16.399999999999977 A33.55000000000001 4.5 0 0 0 67.10000000000002 16.399999999999977 L67.10000000000002 4.5 Z" fill="#a6cbec"/><ellipse cx="33.55000000000001" cy="4.5" rx="32.95000000000001" ry="3.9" fill="#a6cbec" stroke="#fff" stroke-width="1.2"/></svg>
<div style="position:absolute;left:523.05px;top:513.45px;width:600px;height:21.0px;line-height:21.0px;text-align:center;font-size:10.5px;color:#555;font-weight:normal;letter-spacing:0px;text-indent:0px;font-family:'Liberation Sans', sans-serif;white-space:nowrap;">健康档案</div>
<svg style="position:absolute;left:640px;top:535.7px" width="66" height="20.899999999999977" viewBox="0 0 66 20.899999999999977"><path d="M0 4.5 L0 16.399999999999977 A33.0 4.5 0 0 0 66 16.399999999999977 L66 4.5 Z" fill="#a6cbec"/><ellipse cx="33.0" cy="4.5" rx="32.4" ry="3.9" fill="#a6cbec" stroke="#fff" stroke-width="1.2"/></svg>
<div style="position:absolute;left:373.0px;top:537.6500000000001px;width:600px;height:21.0px;line-height:21.0px;text-align:center;font-size:10.5px;color:#555;font-weight:normal;letter-spacing:0px;text-indent:0px;font-family:'Liberation Sans', sans-serif;white-space:nowrap;">电子病历</div>
<svg style="position:absolute;left:715px;top:535.7px" width="66" height="20.899999999999977" viewBox="0 0 66 20.899999999999977"><path d="M0 4.5 L0 16.399999999999977 A33.0 4.5 0 0 0 66 16.399999999999977 L66 4.5 Z" fill="#a6cbec"/><ellipse cx="33.0" cy="4.5" rx="32.4" ry="3.9" fill="#a6cbec" stroke="#fff" stroke-width="1.2"/></svg>
<div style="position:absolute;left:448.0px;top:537.6500000000001px;width:600px;height:21.0px;line-height:21.0px;text-align:center;font-size:10.5px;color:#555;font-weight:normal;letter-spacing:0px;text-indent:0px;font-family:'Liberation Sans', sans-serif;white-space:nowrap;">公共卫生</div>
<svg style="position:absolute;left:789.5px;top:535.7px" width="67.10000000000002" height="20.899999999999977" viewBox="0 0 67.10000000000002 20.899999999999977"><path d="M0 4.5 L0 16.399999999999977 A33.55000000000001 4.5 0 0 0 67.10000000000002 16.399999999999977 L67.10000000000002 4.5 Z" fill="#a6cbec"/><ellipse cx="33.55000000000001" cy="4.5" rx="32.95000000000001" ry="3.9" fill="#a6cbec" stroke="#fff" stroke-width="1.2"/></svg>
<div style="position:absolute;left:523.05px;top:537.6500000000001px;width:600px;height:21.0px;line-height:21.0px;text-align:center;font-size:10.5px;color:#555;font-weight:normal;letter-spacing:0px;text-indent:0px;font-family:'Liberation Sans', sans-serif;white-space:nowrap;">临床数据</div>
<div style="position:absolute;left:736.5px;top:562.4px;width:9.0px;height:2.2000000000000455px;background:#8a8a8a;border-radius:0.5px;"></div>
<div style="position:absolute;left:748.5px;top:562.4px;width:9.0px;height:2.2000000000000455px;background:#8a8a8a;border-radius:0.5px;"></div>
<div style="position:absolute;left:124px;top:580.2px;width:819px;height:70.19999999999993px;background:#a6cbec;border-radius:5px;"></div>
<div style="position:absolute;left:135.4px;top:583.2px;width:193.4px;height:63.799999999999955px;background:#fff;border-radius:6px;"></div>
<div style="position:absolute;left:-124.4px;top:602.9px;width:600px;height:29.0px;line-height:29.0px;text-align:center;font-size:14.5px;color:#222;font-weight:normal;letter-spacing:0px;text-indent:0px;font-family:'Liberation Serif', serif;white-space:nowrap;">云网中心</div>
<div style="position:absolute;left:213.7px;top:587.4px;width:76.5px;height:14.200000000000045px;background:#4aa3db;border-radius:3px;"></div>
<div style="position:absolute;left:-48px;top:586.0px;width:600px;height:17.0px;line-height:17.0px;text-align:center;font-size:8.5px;color:#fff;font-weight:bold;letter-spacing:0px;text-indent:0px;font-family:'Liberation Serif', serif;white-space:nowrap;">集群监控</div>
<div style="position:absolute;left:213.7px;top:607.5px;width:76.5px;height:14.200000000000045px;background:#4aa3db;border-radius:3px;"></div>
<div style="position:absolute;left:-48px;top:606.1px;width:600px;height:17.0px;line-height:17.0px;text-align:center;font-size:8.5px;color:#fff;font-weight:bold;letter-spacing:0px;text-indent:0px;font-family:'Liberation Serif', serif;white-space:nowrap;">流量调度</div>
<div style="position:absolute;left:213.7px;top:627.4px;width:76.5px;height:14.200000000000045px;background:#4aa3db;border-radius:3px;"></div>
<div style="position:absolute;left:-48px;top:626.0px;width:600px;height:17.0px;line-height:17.0px;text-align:center;font-size:8.5px;color:#fff;font-weight:bold;letter-spacing:0px;text-indent:0px;font-family:'Liberation Serif', serif;white-space:nowrap;">带宽监控</div>
<div style="position:absolute;left:301.8px;top:614.3px;width:7.199999999999989px;height:3.400000000000091px;background:#cfcfcf;border-radius:0.5px;"></div>
<div style="position:absolute;left:311.0px;top:614.3px;width:7.199999999999989px;height:3.400000000000091px;background:#cfcfcf;border-radius:0.5px;"></div>
<div style="position:absolute;left:231.60000000000002px;top:585.4000000000001px;width:600px;height:23.6px;line-height:23.6px;text-align:center;font-size:11.8px;color:#2a2a2a;font-weight:bold;letter-spacing:5.6px;text-indent:5.6px;font-family:'Liberation Sans', sans-serif;white-space:nowrap;">技术中台</div>
<div style="position:absolute;left:340.0px;top:618px;width:83.0px;height:19.200000000000045px;background:#4aa3db;border-radius:3px;"></div>
<div style="position:absolute;left:81.5px;top:619.1px;width:600px;height:17.0px;line-height:17.0px;text-align:center;font-size:8.5px;color:#fff;font-weight:bold;letter-spacing:0px;text-indent:0px;font-family:'Liberation Serif', serif;white-space:nowrap;">研发基础平台</div>
<div style="position:absolute;left:441.7px;top:618px;width:83.00000000000006px;height:19.200000000000045px;background:#4aa3db;border-radius:3px;"></div>
<div style="position:absolute;left:183.2px;top:619.1px;width:600px;height:17.0px;line-height:17.0px;text-align:center;font-size:8.5px;color:#fff;font-weight:bold;letter-spacing:0px;text-indent:0px;font-family:'Liberation Serif', serif;white-space:nowrap;">软件数字化平台</div>
<div style="position:absolute;left:543.4px;top:618px;width:83.0px;height:19.200000000000045px;background:#4aa3db;border-radius:3px;"></div>
<div style="position:absolute;left:284.9px;top:619.1px;width:600px;height:17.0px;line-height:17.0px;text-align:center;font-size:8.5px;color:#fff;font-weight:bold;letter-spacing:0px;text-indent:0px;font-family:'Liberation Serif', serif;white-space:nowrap;">研发工具平台</div>
<div style="position:absolute;left:645.1px;top:618px;width:83.0px;height:19.200000000000045px;background:#4aa3db;border-radius:3px;"></div>
<div style="position:absolute;left:386.6px;top:619.1px;width:600px;height:17.0px;line-height:17.0px;text-align:center;font-size:8.5px;color:#fff;font-weight:bold;letter-spacing:0px;text-indent:0px;font-family:'Liberation Serif', serif;white-space:nowrap;">研发协作平台</div>
<div style="position:absolute;left:746.8px;top:618px;width:83.0px;height:19.200000000000045px;background:#4aa3db;border-radius:3px;"></div>
<div style="position:absolute;left:488.29999999999995px;top:619.1px;width:600px;height:17.0px;line-height:17.0px;text-align:center;font-size:8.5px;color:#fff;font-weight:bold;letter-spacing:0px;text-indent:0px;font-family:'Liberation Serif', serif;white-space:nowrap;">安全建设</div>
<div style="position:absolute;left:848.5px;top:618px;width:83.0px;height:19.200000000000045px;background:#4aa3db;border-radius:3px;"></div>
<div style="position:absolute;left:590.0px;top:619.1px;width:600px;height:17.0px;line-height:17.0px;text-align:center;font-size:8.5px;color:#fff;font-weight:bold;letter-spacing:0px;text-indent:0px;font-family:'Liberation Serif', serif;white-space:nowrap;">低代码开发平台</div>
<svg style="position:absolute;left:0;top:0" width="1000" height="750"><rect x="123" y="655" width="819.5" height="29.5" rx="2" fill="none" stroke="#74b2e4" stroke-width="1.2" stroke-dasharray="9 4.5"/></svg>
<div style="position:absolute;left:131px;top:661.7px;width:802px;height:19.799999999999955px;background:#f3f4f6;border-radius:2px;"></div>
<div style="position:absolute;left:59.5px;top:652.9px;width:600px;height:25.0px;line-height:25.0px;text-align:center;font-size:12.5px;color:#555;font-weight:normal;letter-spacing:0px;text-indent:0px;font-family:'Liberation Sans', sans-serif;white-space:nowrap;">主节点（临海市第一人民医院）</div>
<div style="position:absolute;left:349px;top:652.5px;width:600px;height:25.0px;line-height:25.0px;text-align:center;font-size:12.5px;color:#555;font-weight:normal;letter-spacing:0px;text-indent:0px;font-family:'Liberation Sans', sans-serif;white-space:nowrap;">备节点</div>
<div style="position:absolute;left:231.5px;top:659.5px;width:600px;height:27.0px;line-height:27.0px;text-align:center;font-size:13.5px;color:#333;font-weight:bold;letter-spacing:0px;text-indent:0px;font-family:'Liberation Sans', sans-serif;white-space:nowrap;">临海市医疗健康云</div>
<svg style="position:absolute;left:0;top:0" width="1000" height="750"><line x1="942.6" y1="250" x2="942.6" y2="316" stroke="#fff" stroke-width="1.6" stroke-dasharray="3 10"/><line x1="942.6" y1="583" x2="942.6" y2="648" stroke="#fff" stroke-width="1.6" stroke-dasharray="3 10"/></svg>
</body></html>
